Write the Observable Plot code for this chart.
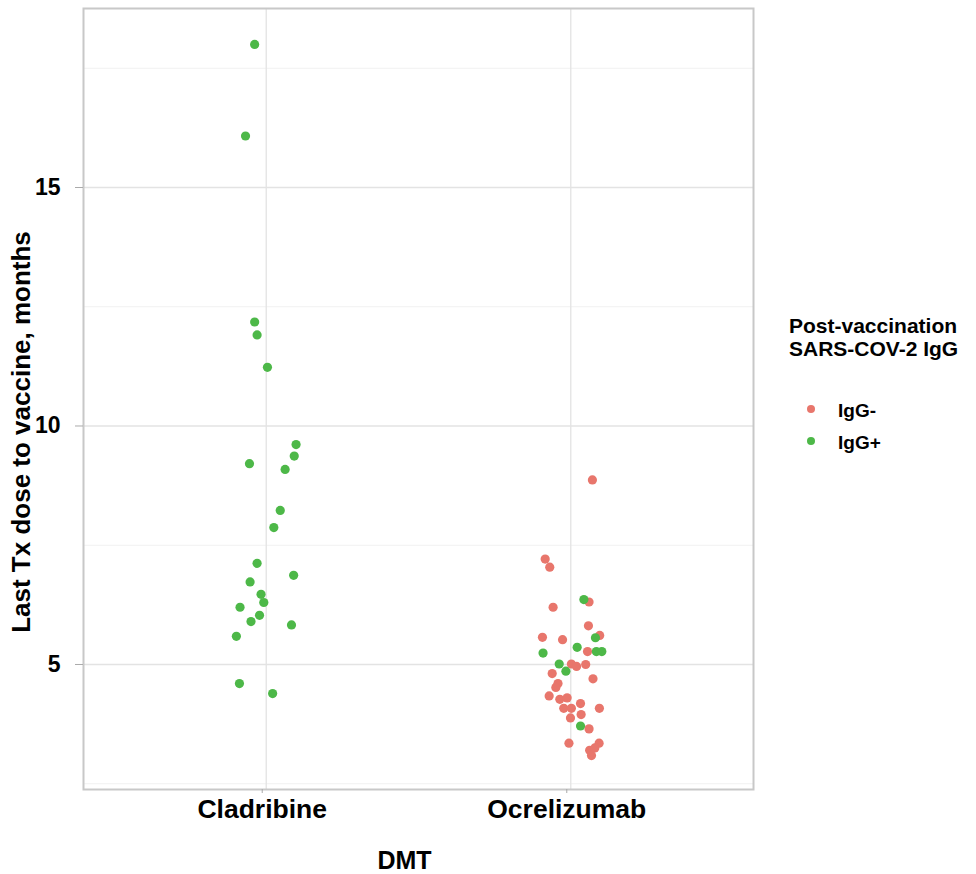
<!DOCTYPE html>
<html>
<head>
<meta charset="utf-8">
<script src="https://cdn.jsdelivr.net/npm/d3@7"></script>
<script src="https://cdn.jsdelivr.net/npm/@observablehq/plot@0.6"></script>
<style>
  html, body { margin: 0; padding: 0; background: #fff; }
  #wrap { position: relative; width: 976px; height: 874px; overflow: hidden; }
  #chart { position: absolute; left: 0; top: 0; }
  .lg { position: absolute; font-family: "Liberation Sans", Arial, sans-serif; font-weight: bold; color: #000; white-space: nowrap; }
</style>
</head>
<body>
<div id="wrap"><div id="chart"></div></div>
<script>
// ---- data ----
const categories = ["Cladribine", "Ocrelizumab"];
const groups = ["IgG-", "IgG+"];
const colors = ["#e8766c", "#4db848"];
const yTicks = [5, 10, 15];
const yMinorTicks = [2.5, 7.5, 12.5, 17.5];
const yTitle = "Last Tx dose to vaccine, months";
const xTitle = "DMT";
const legendTitle = ["Post-vaccination", "SARS-COV-2 IgG"];

// Cladribine (all IgG+)
const cladribineMonths = [18.00, 16.08, 12.18, 11.91, 11.23, 9.61, 9.37, 9.21, 9.09, 8.23, 7.87, 7.12,
  6.87, 6.73, 6.47, 6.30, 6.20, 6.03, 5.90, 5.83, 5.59, 4.60, 4.39];
const cladribineJitter = [-0.038, -0.068, -0.038, -0.030, 0.004, 0.098, 0.092, -0.055, 0.062, 0.046, 0.025, -0.030,
  0.090, -0.053, -0.017, -0.008, -0.086, -0.022, -0.050, 0.083, -0.098, -0.088, 0.021];
const cladribineGroup = cladribineMonths.map(() => "IgG+");

// Ocrelizumab
const ocrelizumabMonths = [8.87, 7.21, 7.04, 6.36, 6.31, 6.20, 5.81, 5.57, 5.52, 5.61, 5.56, 5.36,
  5.24, 5.27, 5.27, 5.27, 5.01, 4.86, 5.01, 4.96, 5.00, 4.81, 4.70, 4.60, 4.52, 4.34, 4.27, 4.30,
  4.08, 4.08, 4.18, 4.08, 3.88, 3.95, 3.71, 3.65, 3.35, 3.35, 3.20, 3.25, 3.09];
const ocrelizumabJitter = [0.071, -0.084, -0.069, 0.043, 0.060, -0.058, 0.058, -0.093, -0.027, 0.095, 0.081, 0.021,
  -0.091, 0.055, 0.084, 0.102, -0.038, -0.016, 0.002, 0.019, 0.049, -0.061, 0.073, -0.042, -0.049, -0.071, -0.036, -0.012,
  -0.023, 0.002, 0.032, 0.094, -0.001, 0.034, 0.032, 0.060, -0.006, 0.093, 0.062, 0.079, 0.068];
const ocrelizumabGroup = ["IgG-", "IgG-", "IgG-", "IgG+", "IgG-", "IgG-", "IgG-", "IgG-", "IgG-", "IgG-", "IgG+", "IgG+",
  "IgG+", "IgG-", "IgG+", "IgG+", "IgG+", "IgG+", "IgG-", "IgG-", "IgG-", "IgG-", "IgG-", "IgG-", "IgG-", "IgG-", "IgG-", "IgG-",
  "IgG-", "IgG-", "IgG-", "IgG-", "IgG-", "IgG-", "IgG+", "IgG-", "IgG-", "IgG-", "IgG-", "IgG-", "IgG-"];

// ---- table ----
const series = [
  [cladribineMonths, cladribineJitter, cladribineGroup],
  [ocrelizumabMonths, ocrelizumabJitter, ocrelizumabGroup]
];
const rows = [];
series.forEach(([m, j, g], ci) => {
  m.forEach((v, k) => rows.push({dmt: categories[ci], pos: ci + 1 + j[k], months: v, group: g[k]}));
});
rows.sort((a, b) => groups.indexOf(a.group) - groups.indexOf(b.group));

const font = "'Liberation Sans', Arial, sans-serif";

const plot = Plot.plot({
  width: 976,
  height: 874,
  marginLeft: 83,
  marginRight: 223,
  marginTop: 8,
  marginBottom: 85,
  style: {fontFamily: font, background: "#fff", color: "#000"},
  x: {type: "linear", domain: [0.4, 2.6]},
  y: {domain: [2.379, 18.753]},
  color: {domain: groups, range: colors},
  marks: [
    Plot.ruleY(yMinorTicks, {stroke: "#f1f1f1", strokeWidth: 1.2}),
    Plot.ruleY(yTicks, {stroke: "#e3e3e3", strokeWidth: 1.3}),
    Plot.ruleX([1, 2], {stroke: "#e3e3e3", strokeWidth: 1.3}),
    Plot.frame({stroke: "#c8c8c8", strokeWidth: 2}),
    Plot.axisY(yTicks, {tickSize: 8, tickPadding: 15, fontSize: 23, fontWeight: "bold", stroke: "#aaa", fill: "#000", label: null}),
    Plot.axisX([1, 2], {tickFormat: d => categories[d - 1], tickSize: 4, tickPadding: 6, dx: -4, fontSize: 26.5, fontWeight: "bold", stroke: "#aaa", fill: "#000", label: null}),
    Plot.dot(rows, {x: "pos", y: "months", fill: "group", r: 4.6, stroke: "none"}),
    Plot.text([yTitle], {text: d => d, frameAnchor: "left", textAnchor: "middle", lineAnchor: "middle", dx: -62, dy: 33, rotate: -90, fontSize: 26, fontWeight: "bold", fill: "#000"}),
    Plot.text([xTitle], {text: d => d, frameAnchor: "bottom", textAnchor: "middle", lineAnchor: "middle", dx: -14, dy: 71, fontSize: 25, fontWeight: "bold", fill: "#000"})
  ]
});
document.getElementById("chart").appendChild(plot);

// ---- legend ----
const wrap = document.getElementById("wrap");
const t = document.createElement("div");
t.className = "lg";
t.style.left = "789px";
t.style.top = "315px";
t.style.fontSize = "21px";
t.style.lineHeight = "22.5px";
t.innerHTML = legendTitle.join("<br>");
wrap.appendChild(t);
groups.forEach((g, i) => {
  const top = 401 + i * 32;
  const dot = document.createElement("div");
  dot.style.cssText = `position:absolute;left:807px;top:${top + 4.3}px;width:8px;height:8px;border-radius:50%;background:${colors[i]};`;
  wrap.appendChild(dot);
  const lab = document.createElement("div");
  lab.className = "lg";
  lab.style.cssText += `left:838px;top:${top}px;font-size:19px;line-height:19px;`;
  lab.textContent = g;
  wrap.appendChild(lab);
});
</script>
</body>
</html>
